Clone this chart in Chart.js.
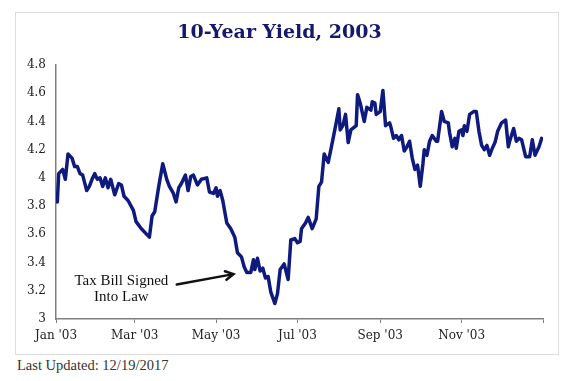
<!DOCTYPE html>
<html>
<head>
<meta charset="utf-8">
<script src="https://cdn.jsdelivr.net/npm/chart.js@4"></script>
<style>
  body { margin: 0; background: #fff; width: 570px; height: 381px; position: relative; overflow: hidden; }
  #box { position: absolute; left: 15px; top: 12px; width: 544px; height: 343px; box-sizing: border-box; border: 1px solid #dcdcdc; }
  #yieldChart { display: block; }
  #updated { position: absolute; left: 17px; top: 357px; font: 14.5px "Liberation Serif", serif; color: #333; }
</style>
</head>
<body>
<div id="box"><canvas id="yieldChart" width="542" height="341"></canvas></div>
<div id="updated">Last Updated: 12/19/2017</div>
<script>
// day of year 2003 (0 = Jan 1) and 10-year yield
const days = [1, 2, 5, 7, 9, 12, 14, 16, 18, 20, 23, 25, 27, 29, 31, 33, 35, 37, 39, 41, 44, 47, 49, 51, 54, 58, 60, 64, 68, 70, 72, 74, 77, 80, 83, 85, 88, 90, 92, 94, 97, 99, 101, 103, 106, 109, 113, 115, 118, 120, 121, 123, 125, 128, 131, 134, 136, 139, 141, 143, 146, 148, 149, 151, 153, 155, 157, 159, 161, 164, 166, 168, 171, 174, 176, 179, 181, 183, 184, 187, 189, 192, 195, 197, 199, 201, 204, 206, 210, 212, 213, 215, 217, 219, 221, 225, 226, 228, 231, 233, 236, 237, 239, 240, 243, 245, 247, 250, 251, 253, 255, 257, 259, 261, 263, 265, 267, 269, 271, 273, 275, 276, 278, 280, 282, 285, 286, 289, 291, 294, 295, 297, 299, 300, 302, 304, 305, 306, 308, 310, 313, 315, 317, 319, 321, 323, 325, 327, 329, 331, 334, 337, 339, 340, 343, 345, 347, 349, 352, 355, 357, 359, 362, 364];
const yields = [3.83, 4.03, 4.06, 3.99, 4.17, 4.14, 4.08, 4.08, 4.03, 4.02, 3.91, 3.94, 3.99, 4.03, 3.99, 4.00, 3.94, 4.00, 3.93, 3.99, 3.88, 3.96, 3.95, 3.87, 3.84, 3.77, 3.69, 3.64, 3.60, 3.58, 3.73, 3.76, 3.94, 4.10, 3.99, 3.94, 3.89, 3.83, 3.93, 3.96, 4.02, 3.91, 4.01, 4.02, 3.95, 3.99, 4.00, 3.90, 3.89, 3.93, 3.87, 3.91, 3.84, 3.68, 3.64, 3.58, 3.47, 3.44, 3.37, 3.33, 3.33, 3.42, 3.35, 3.43, 3.34, 3.36, 3.29, 3.30, 3.19, 3.11, 3.18, 3.35, 3.39, 3.28, 3.56, 3.57, 3.54, 3.55, 3.64, 3.68, 3.72, 3.64, 3.71, 3.94, 3.97, 4.17, 4.11, 4.20, 4.39, 4.49, 4.34, 4.37, 4.45, 4.25, 4.34, 4.37, 4.59, 4.53, 4.40, 4.50, 4.48, 4.54, 4.53, 4.45, 4.47, 4.62, 4.37, 4.39, 4.36, 4.28, 4.30, 4.27, 4.30, 4.19, 4.22, 4.26, 4.14, 4.06, 4.09, 3.94, 4.10, 4.20, 4.16, 4.26, 4.30, 4.26, 4.26, 4.47, 4.40, 4.39, 4.32, 4.22, 4.28, 4.21, 4.33, 4.34, 4.30, 4.37, 4.33, 4.45, 4.47, 4.47, 4.33, 4.23, 4.20, 4.23, 4.16, 4.21, 4.25, 4.33, 4.39, 4.41, 4.22, 4.26, 4.35, 4.26, 4.28, 4.27, 4.15, 4.15, 4.27, 4.16, 4.22, 4.28];

const xTickDays = [0, 59, 120, 181, 243, 304, 365];
const xTickLabels = ["Jan '03", "Mar '03", "May '03", "Jul '03", "Sep '03", "Nov '03", ""];
const yTickValues = [3, 3.2, 3.4, 3.6, 3.8, 4, 4.2, 4.4, 4.6, 4.8];

// annotation, in data units (day, yield)
const noteLines = ["Tax Bill Signed", "Into Law"];
const noteAt = { day: 49, value: 3.27 };
const arrowFrom = { day: 90.5, value: 3.245 };
const arrowTo = { day: 133, value: 3.318 };

const navy = "#0e1a7e";

const notePlugin = {
  id: "taxNote",
  afterDatasetsDraw(chart) {
    const { ctx, scales } = chart;
    const x = scales.x, y = scales.y;
    ctx.save();
    ctx.fillStyle = "#111";
    ctx.font = '15px "Liberation Serif", serif';
    ctx.textAlign = "center";
    ctx.textBaseline = "middle";
    const tx = x.getPixelForValue(noteAt.day);
    const ty = y.getPixelForValue(noteAt.value);
    noteLines.forEach((line, i) => ctx.fillText(line, tx, ty + i * 16.6));

    // arrow
    const x1 = x.getPixelForValue(arrowFrom.day), y1 = y.getPixelForValue(arrowFrom.value);
    const x2 = x.getPixelForValue(arrowTo.day), y2 = y.getPixelForValue(arrowTo.value);
    const ang = Math.atan2(y2 - y1, x2 - x1);
    ctx.strokeStyle = "#111";
    ctx.lineWidth = 2.5;
    ctx.lineCap = "round";
    ctx.beginPath();
    ctx.moveTo(x1, y1);
    ctx.lineTo(x2, y2);
    ctx.moveTo(x2 - 9 * Math.cos(ang - 0.5), y2 - 9 * Math.sin(ang - 0.5));
    ctx.lineTo(x2, y2);
    ctx.lineTo(x2 - 9 * Math.cos(ang + 0.5), y2 - 9 * Math.sin(ang + 0.5));
    ctx.stroke();
    ctx.restore();
  },
};

new Chart(document.getElementById("yieldChart").getContext("2d"), {
  type: "line",
  data: {
    datasets: [
      {
        label: "10-Year Yield",
        data: days.map((d, i) => ({ x: d, y: yields[i] })),
        borderColor: navy,
        borderWidth: 3.5,
        borderJoinStyle: "round",
        borderCapStyle: "round",
        pointRadius: 0,
        tension: 0,
        fill: false,
      },
    ],
  },
  options: {
    responsive: false,
    animation: false,
    devicePixelRatio: 1,
    layout: { padding: { left: 0, right: 15, top: 0, bottom: 0 } },
    plugins: {
      legend: { display: false },
      tooltip: { enabled: false },
      title: {
        display: true,
        text: "10-Year Yield, 2003",
        color: "#14196b",
        font: { family: '"DejaVu Serif", serif', size: 19, weight: "bold" },
        padding: { top: 9, bottom: 20.2 },
      },
    },
    scales: {
      x: {
        type: "linear",
        min: 0,
        max: 365,
        afterBuildTicks: (scale) => {
          scale.ticks = xTickDays.map((v) => ({ value: v }));
        },
        afterFit: (scale) => {
          scale.height = 35;
        },
        grid: { drawOnChartArea: false, drawTicks: true, tickLength: 4, color: "#808080" },
        border: { color: "#808080", width: 1.5 },
        ticks: {
          autoSkip: false,
          maxRotation: 0,
          padding: 6,
          color: "#222",
          font: { family: '"DejaVu Serif", serif', size: 12 },
          callback: (value) => xTickLabels[xTickDays.indexOf(value)],
        },
      },
      y: {
        min: 3,
        max: 4.8,
        afterBuildTicks: (scale) => {
          scale.ticks = yTickValues.map((v) => ({ value: v }));
        },
        afterFit: (scale) => {
          scale.width = 40;
        },
        grid: { display: false, drawTicks: false },
        border: { display: true, color: "#808080", width: 1.5 },
        ticks: {
          padding: 10,
          color: "#222",
          font: { family: '"DejaVu Serif", serif', size: 12 },
          callback: (value) => String(Number(value.toFixed(1))),
        },
      },
    },
  },
  plugins: [notePlugin],
});
</script>
</body>
</html>
